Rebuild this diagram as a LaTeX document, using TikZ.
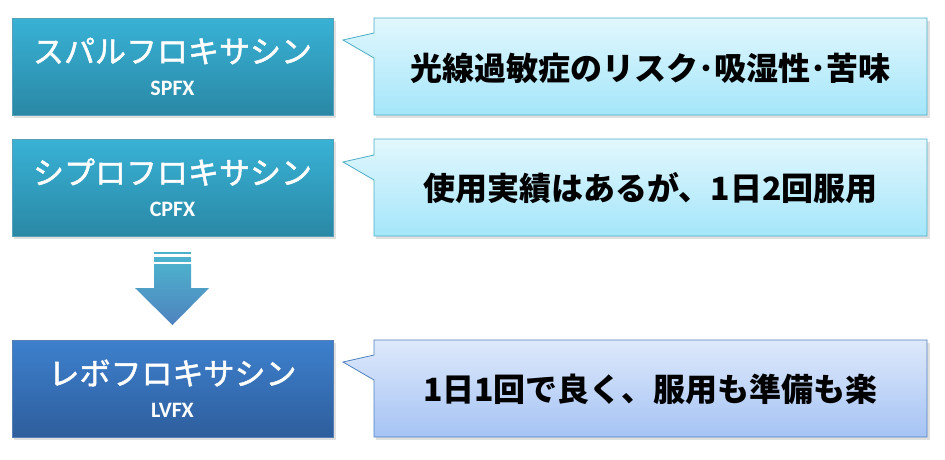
\documentclass[tikz,border=0pt]{standalone}
\usepackage{fontspec}
\newfontfamily\jp{Noto Sans CJK JP}
\newfontfamily\jpm{Noto Sans CJK JP}[FakeBold=1.6]
\newfontfamily\lat{Carlito}
\definecolor{tealtop}{HTML}{38B2D6}
\definecolor{tealbot}{HTML}{2A88A5}
\definecolor{bluetop}{HTML}{3D80CD}
\definecolor{bluebot}{HTML}{2E5E9D}
\definecolor{cyantop}{HTML}{E2F7FD}
\definecolor{cyanbot}{HTML}{A4E6FA}
\definecolor{cyanline}{HTML}{4BACC6}
\definecolor{ltbtop}{HTML}{DEE9FB}
\definecolor{ltbbot}{HTML}{A5C3F4}
\definecolor{ltbline}{HTML}{4F81BD}
\definecolor{arrtop}{HTML}{4DB0CC}
\definecolor{arrbot}{HTML}{4F82BE}
\tikzset{
  drugbox/.style={rectangle, minimum width=321pt, minimum height=97pt, inner sep=0pt, top color=#1top, bottom color=#1bot, draw=#1bot!80!white, line width=0.6pt},
  drugname/.style={text=white, font=\jpm\fontsize{31}{31}\selectfont, inner sep=0pt},
  drugabbr/.style={text=white, font=\lat\bfseries\fontsize{22}{22}\selectfont, inner sep=0pt},
  note/.style={text=black, font=\jp\bfseries\fontsize{32}{32}\selectfont, inner sep=0pt},
  shadowfill/.style={fill=black, opacity=0.12},
}
\begin{document}
\begin{tikzpicture}[x=1pt,y=-1pt]
\useasboundingbox (0,0) rectangle (945,459);
% shadows
\foreach \t/\b in {18/115,139/236,340/437}{
  \fill[shadowfill] (13.5,\t+2.5) rectangle (335.5,\b+3);
  \fill[shadowfill] (375.5,\t+2.5) rectangle (929.5,\b+3);
}
% left boxes
\node[drugbox=teal] (b1) at (172.5,66.5) {};
\node[drugbox=teal] (b2) at (172.5,187.5) {};
\node[drugbox=blue] (b3) at (172.5,388.5) {};
\node[drugname] (n1) at (172.5,51) {スパルフロキサシン};
\node[drugabbr] (a1) at (172.5,88) {SPFX};
\node[drugname] (n2) at (172.5,172) {シプロフロキサシン};
\node[drugabbr] (a2) at (172.5,209) {CPFX};
\node[drugname] (n3) at (172.5,373) {レボフロキサシン};
\node[drugabbr] (a3) at (172.5,410) {LVFX};
% callouts
\shade[top color=cyantop, bottom color=cyanbot, draw=cyanline, line width=0.8pt]
  (374,18) -- (927,18) -- (927,115) -- (374,115) -- (374,58) -- (343,40) -- (374,33) -- cycle;
\shade[top color=cyantop, bottom color=cyanbot, draw=cyanline, line width=0.8pt]
  (374,139) -- (927,139) -- (927,236) -- (374,236) -- (374,180) -- (343,162) -- (374,155) -- cycle;
\shade[top color=ltbtop, bottom color=ltbbot, draw=ltbline, line width=0.8pt]
  (374,340) -- (927,340) -- (927,437) -- (374,437) -- (374,380) -- (343,362) -- (374,355) -- cycle;
\node[note] (t1) at (650.5,68) {光線過敏症のリスク･吸湿性･苦味};
\node[note] (t2) at (650.5,188) {使用実績はあるが、1日2回服用};
\node[note] (t3) at (650.5,389) {1日1回で良く、服用も準備も楽};
% block arrow
\fill[arrtop] (154,252.3) rectangle (191,254.3);
\fill[arrtop] (154,257.3) rectangle (191,261.7);
\shade[top color=arrtop, bottom color=arrbot]
  (154,264) -- (191,264) -- (191,288) -- (209,288) -- (172.5,325) -- (135,288) -- (154,288) -- cycle;
\end{tikzpicture}
\end{document}
